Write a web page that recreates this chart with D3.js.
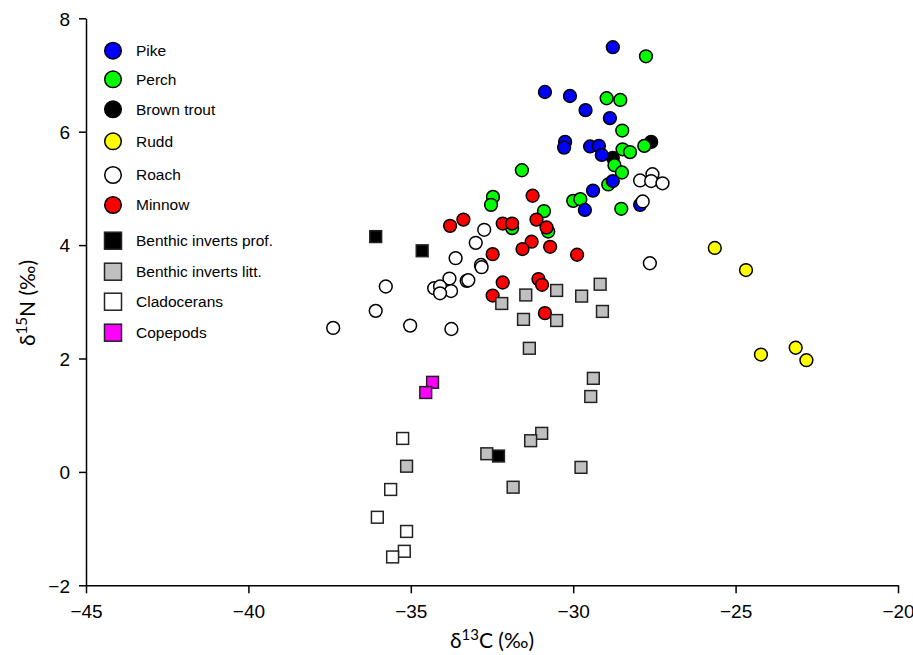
<!DOCTYPE html>
<html><head><meta charset="utf-8">
<script src="https://cdn.jsdelivr.net/npm/d3@7"></script>
<style>body{margin:0;background:#fff}svg{display:block}</style>
</head><body><svg id="c" width="913" height="655"></svg>
<script>
const xTicks = [-45, -40, -35, -30, -25, -20];
const yTicks = [-2, 0, 2, 4, 6, 8];

const pike = [[-28.78,7.49],[-30.87,6.70],[-30.10,6.63],[-29.62,6.38],[-28.87,6.24],[-30.25,5.82],[-30.28,5.72],[-29.48,5.74],[-29.21,5.75],[-29.12,5.59],[-28.78,5.13],[-29.39,4.96],[-29.64,4.62],[-27.94,4.71]];
const brownTrout = [[-27.60,5.82],[-28.78,5.54]];
const perch = [[-27.76,7.33],[-28.97,6.59],[-28.55,6.56],[-28.49,6.02],[-28.48,5.69],[-28.25,5.64],[-27.81,5.75],[-28.73,5.41],[-28.50,5.28],[-28.92,5.07],[-28.52,4.64],[-30.0,4.78],[-29.78,4.81],[-31.58,5.32],[-32.47,4.85],[-32.53,4.71],[-30.90,4.60],[-30.77,4.24],[-31.88,4.30]];
const rudd = [[-25.64,3.95],[-24.68,3.56],[-24.22,2.07],[-23.15,2.19],[-22.82,1.97]];
const roach = [[-27.64,3.68],[-27.94,5.14],[-27.56,5.25],[-27.60,5.13],[-27.25,5.09],[-27.86,4.77],[-32.74,4.27],[-33.0,4.04],[-33.62,3.77],[-32.84,3.65],[-32.82,3.61],[-33.81,3.41],[-33.28,3.37],[-33.23,3.38],[-34.28,3.24],[-34.10,3.27],[-33.76,3.19],[-34.10,3.15],[-35.77,3.27],[-36.08,2.84],[-37.39,2.54],[-35.02,2.58],[-33.75,2.52]];
const minnow = [[-31.25,4.87],[-33.38,4.45],[-33.79,4.34],[-32.17,4.38],[-31.88,4.38],[-31.13,4.45],[-30.82,4.31],[-31.28,4.06],[-31.56,3.93],[-30.71,3.97],[-32.48,3.84],[-29.88,3.83],[-32.17,3.34],[-31.07,3.40],[-30.96,3.30],[-32.48,3.11],[-30.87,2.80]];
const benthicProf = [[-36.08,4.15],[-34.65,3.90],[-32.30,0.28]];
const benthicLitt = [[-32.20,2.97],[-31.46,3.12],[-30.51,3.20],[-29.74,3.10],[-29.17,3.31],[-31.53,2.69],[-30.51,2.67],[-29.10,2.83],[-31.35,2.18],[-29.38,1.65],[-29.46,1.33],[-30.97,0.68],[-31.31,0.55],[-32.66,0.32],[-31.85,-0.27],[-29.76,0.08],[-35.13,0.10]];
const cladocerans = [[-35.25,0.59],[-35.62,-0.31],[-36.03,-0.80],[-35.13,-1.05],[-35.20,-1.40],[-35.56,-1.50]];
const copepods = [[-34.33,1.58],[-34.54,1.40]];

const groups = [
  {name:"Pike", shape:"circle", fill:"#0000ff", data:pike},
  {name:"Perch", shape:"circle", fill:"#00ff00", data:perch},
  {name:"Brown trout", shape:"circle", fill:"#000000", data:brownTrout},
  {name:"Rudd", shape:"circle", fill:"#ffff00", data:rudd},
  {name:"Roach", shape:"circle", fill:"#ffffff", data:roach},
  {name:"Minnow", shape:"circle", fill:"#ff0000", data:minnow},
  {name:"Benthic inverts prof.", shape:"square", fill:"#000000", data:benthicProf},
  {name:"Benthic inverts litt.", shape:"square", fill:"#c0c0c0", data:benthicLitt},
  {name:"Cladocerans", shape:"square", fill:"#ffffff", data:cladocerans},
  {name:"Copepods", shape:"square", fill:"#ff00ff", data:copepods}
];
const drawOrder = ["Brown trout","Perch","Pike","Roach","Minnow","Rudd","Benthic inverts litt.","Benthic inverts prof.","Cladocerans","Copepods"];

const svg = d3.select("#c");
const x = d3.scaleLinear().domain([-45,-20]).range([86,898]);
const y = d3.scaleLinear().domain([-2,8]).range([585.3,18.3]);
const tickFont = "'Liberation Sans',Arial,sans-serif";
const titleFont = "Lato,'Open Sans',sans-serif";

const fmt = d => d < 0 ? "\u2212" + Math.abs(d) : String(d);

const xa = svg.append("g").attr("transform","translate(0,585.3)")
  .call(d3.axisBottom(x).tickValues(xTicks).tickSize(8).tickSizeOuter(0).tickFormat(fmt));
const ya = svg.append("g").attr("transform","translate(86,0)")
  .call(d3.axisLeft(y).tickValues(yTicks).tickSize(7).tickSizeOuter(0).tickFormat(fmt));
[xa, ya].forEach(a => {
  a.select(".domain").attr("stroke","#000").attr("stroke-width",1.5);
  a.selectAll(".tick line").attr("stroke","#000").attr("stroke-width",1.5);
  a.selectAll("text").attr("font-family",tickFont).attr("font-size",19).attr("fill","#000");
});
xa.selectAll("text").attr("y",33).attr("dy",0);
ya.selectAll("text").attr("x",-16).attr("dy","0.36em");

// axis titles
const xt = svg.append("text").attr("x",492).attr("y",648).attr("text-anchor","middle")
  .attr("font-family",titleFont).attr("font-size",21);
xt.append("tspan").text("\u03b4");
xt.append("tspan").attr("dy",-8).attr("font-size",15).text("13");
xt.append("tspan").attr("dy",8).text("C (\u2030)");

const yt = svg.append("text").attr("transform","translate(35,303) rotate(-90)").attr("text-anchor","middle")
  .attr("font-family",titleFont).attr("font-size",21);
yt.append("tspan").text("\u03b4");
yt.append("tspan").attr("dy",-8).attr("font-size",15).text("15");
yt.append("tspan").attr("dy",8).text("N (\u2030)");

function drawMark(sel, shape, fill, r, s) {
  if (shape === "circle") {
    sel.append("circle").attr("r", r).attr("fill", fill).attr("stroke","#000").attr("stroke-width",1.5);
  } else {
    sel.append("rect").attr("x",-s/2).attr("y",-s/2).attr("width",s).attr("height",s)
      .attr("fill", fill).attr("stroke","#222").attr("stroke-width",1.5);
  }
}

const plot = svg.append("g");
drawOrder.forEach(n => {
  const g = groups.find(d => d.name === n);
  g.data.forEach(p => {
    const m = plot.append("g").attr("transform",`translate(${x(p[0])},${y(p[1])})`);
    drawMark(m, g.shape, g.fill, 6.4, 11.8);
  });
});

// legend
const legY = [50.7,79.3,109.3,141.3,175,205,240.7,271.7,301.7,332.7];
groups.forEach((g,i) => {
  const m = svg.append("g").attr("transform",`translate(113,${legY[i]})`);
  drawMark(m, g.shape, g.fill, 8.3, 17);
  svg.append("text").attr("x",136).attr("y",legY[i]).attr("dy","0.35em")
    .attr("font-family","'Liberation Sans',Arial,sans-serif").attr("font-size",15.5).text(g.name);
});
</script></body></html>
